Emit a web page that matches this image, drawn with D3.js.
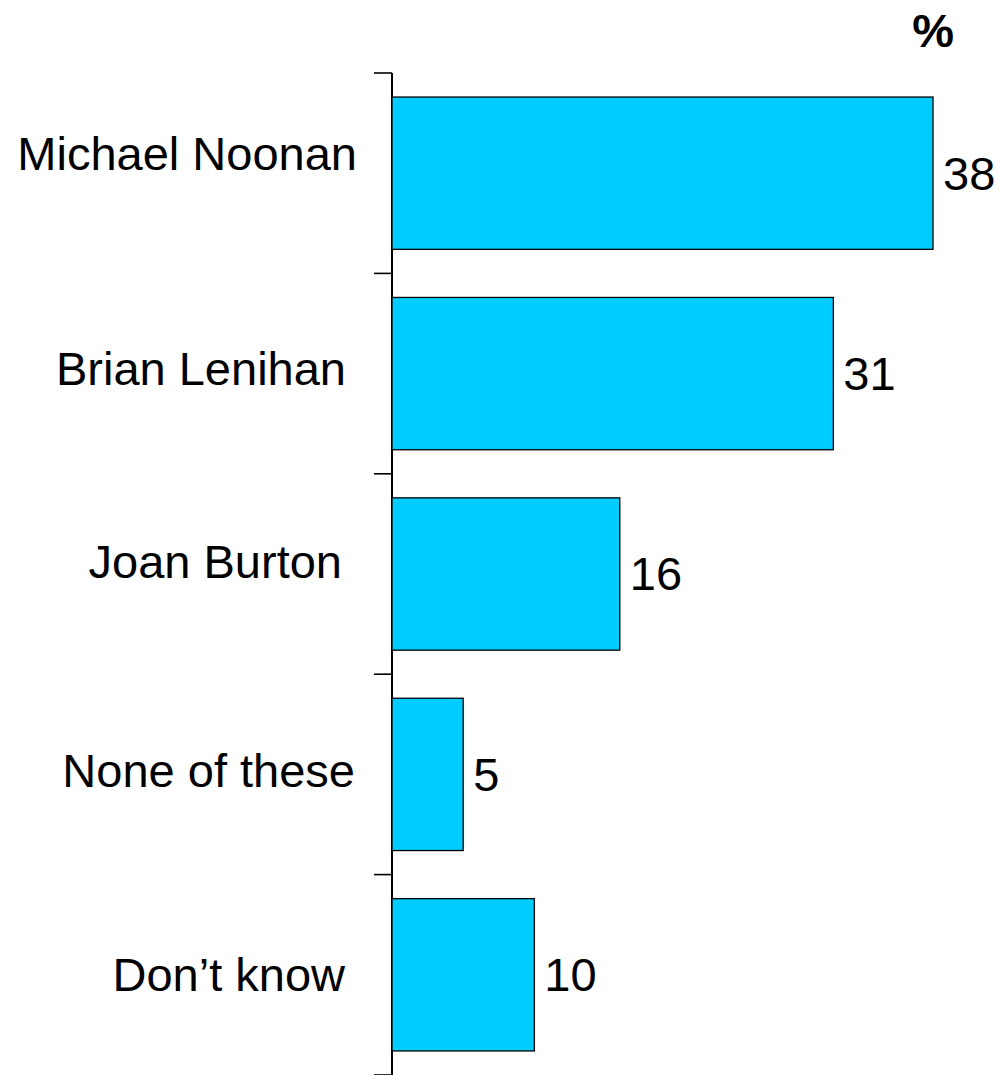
<!DOCTYPE html>
<html>
<head>
<meta charset="utf-8">
<script src="https://cdn.jsdelivr.net/npm/d3@7"></script>
<style>
  html, body { margin: 0; padding: 0; background: #ffffff; }
  svg { display: block; }
  text { font-family: "Liberation Sans", Arial, Helvetica, sans-serif; fill: #000; }
</style>
</head>
<body>
<svg id="chart" width="999" height="1075"></svg>
<script>
// Poll results: who would be preferred as Minister for Finance (%)
const categories = ["Michael Noonan", "Brian Lenihan", "Joan Burton", "None of these", "Don\u2019t know"];
const values = [38, 31, 16, 5, 10];
const unitLabel = "%";

// Small per-label nudges for the category text (dx, dy in px)
const labelNudge = [[0, -20], [-11, -5], [-15, -12], [-2, -4], [-12, 0]];

const svg = d3.select("#chart");
const axisX = 392;
const plotTop = 73, plotBottom = 1075;

const x = d3.scaleLinear().domain([0, 38]).range([axisX, 933]);
const y = d3.scaleBand()
  .domain(categories)
  .range([plotTop, plotBottom])
  .paddingInner(0.24)
  .paddingOuter(0.12);

const fontSize = 47;

// Vertical axis line with ticks at the band boundaries
const step = y.step();
const gap = step * y.paddingInner() / 2;
const boundaries = categories.map(c => y(c) - gap)
  .concat([y(categories[categories.length - 1]) + y.bandwidth() + gap]);

const axis = svg.append("g");
axis.append("line")
  .attr("x1", axisX).attr("x2", axisX)
  .attr("y1", plotTop).attr("y2", plotBottom)
  .attr("stroke", "#000").attr("stroke-width", 2);
axis.selectAll("line.tick")
  .data(boundaries)
  .join("line")
  .attr("class", "tick")
  .attr("x1", axisX - 18).attr("x2", axisX)
  .attr("y1", d => d).attr("y2", d => d)
  .attr("stroke", "#000").attr("stroke-width", 1.6);

// Bars
svg.append("g").selectAll("rect")
  .data(values)
  .join("rect")
  .attr("x", x(0))
  .attr("y", (d, i) => y(categories[i]))
  .attr("width", d => x(d) - x(0))
  .attr("height", y.bandwidth())
  .attr("fill", "#00ccff")
  .attr("stroke", "#000")
  .attr("stroke-width", 1.3);

// Value labels
svg.append("g").selectAll("text")
  .data(values)
  .join("text")
  .attr("x", d => x(d) + 10)
  .attr("y", (d, i) => y(categories[i]) + y.bandwidth() / 2)
  .attr("dy", "0.35em")
  .attr("font-size", fontSize)
  .text(d => d);

// Category labels
svg.append("g").selectAll("text")
  .data(categories)
  .join("text")
  .attr("x", (d, i) => 357 + labelNudge[i][0])
  .attr("y", (d, i) => y(d) + y.bandwidth() / 2 + labelNudge[i][1])
  .attr("dy", "0.35em")
  .attr("text-anchor", "end")
  .attr("font-size", fontSize)
  .text(d => d);

// Unit marker
svg.append("text")
  .attr("x", 954)
  .attr("y", 47)
  .attr("text-anchor", "end")
  .attr("font-size", 47)
  .attr("font-weight", "bold")
  .text(unitLabel);
</script>
</body>
</html>
